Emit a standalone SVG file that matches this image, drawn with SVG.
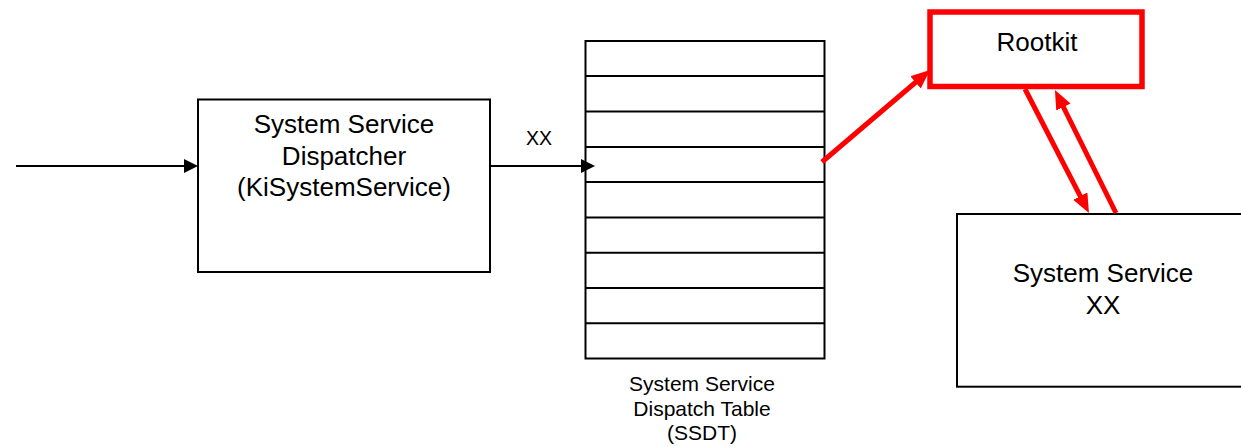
<svg xmlns="http://www.w3.org/2000/svg" width="1241" height="447" viewBox="0 0 1241 447">
  <style>
    text { font-family: "Liberation Sans", Arial, sans-serif; fill: #000; text-anchor: middle; }
    .box { fill: #fff; stroke: #000; stroke-width: 2; }
    .row { stroke: #000; stroke-width: 2; }
    .big { font-size: 26px; }
    .mid { font-size: 21px; }
    .small { font-size: 19.5px; }
    .wire { stroke: #000; stroke-width: 2; fill: none; }
    .hook { stroke: #ff0000; stroke-width: 5; fill: none; }
  </style>
  <defs>
    <marker id="arrowBlack" markerUnits="userSpaceOnUse" markerWidth="16" markerHeight="16" refX="10" refY="7" orient="auto">
      <path d="M0,0 L14,7 L0,14 z" fill="#000"/>
    </marker>
    <marker id="arrowRed" markerUnits="userSpaceOnUse" markerWidth="22" markerHeight="18" refX="9" refY="8" orient="auto">
      <path d="M0,0 L19,8 L0,16 z" fill="#ff0000"/>
    </marker>
  </defs>
  <rect width="1241" height="447" fill="#fff"/>

  <!-- System service dispatcher -->
  <g id="dispatcher">
    <rect class="box" x="198" y="99.5" width="292" height="172.5"/>
    <text class="big" x="344" y="133">System Service</text>
    <text class="big" x="344" y="164.5">Dispatcher</text>
    <text class="big" x="344" y="196">(KiSystemService)</text>
  </g>

  <!-- SSDT table -->
  <g id="ssdt">
    <rect class="box" x="585.5" y="41" width="239" height="317.5"/>
    <line class="row" x1="585.5" y1="76" x2="824.5" y2="76"/>
    <line class="row" x1="585.5" y1="111.5" x2="824.5" y2="111.5"/>
    <line class="row" x1="585.5" y1="147" x2="824.5" y2="147"/>
    <line class="row" x1="585.5" y1="182" x2="824.5" y2="182"/>
    <line class="row" x1="585.5" y1="217.5" x2="824.5" y2="217.5"/>
    <line class="row" x1="585.5" y1="252.7" x2="824.5" y2="252.7"/>
    <line class="row" x1="585.5" y1="288" x2="824.5" y2="288"/>
    <line class="row" x1="585.5" y1="323.3" x2="824.5" y2="323.3"/>
    <text class="mid" x="702" y="391">System Service</text>
    <text class="mid" x="702" y="415.5">Dispatch Table</text>
    <text class="mid" x="702" y="440">(SSDT)</text>
  </g>

  <!-- Rootkit -->
  <g id="rootkit">
    <rect x="930" y="12" width="212" height="74.5" fill="#fff" stroke="#ff0000" stroke-width="5.5"/>
    <text class="big" x="1037" y="51">Rootkit</text>
  </g>

  <!-- Target system service -->
  <g id="service-xx">
    <rect class="box" x="957" y="214" width="300" height="172.7"/>
    <text class="big" x="1103" y="282">System Service</text>
    <text class="big" x="1103" y="314">XX</text>
  </g>

  <!-- Connectors -->
  <g id="connectors">
    <line class="wire" x1="16" y1="166" x2="194" y2="166" marker-end="url(#arrowBlack)"/>
    <line class="wire" x1="490" y1="166" x2="591" y2="166" marker-end="url(#arrowBlack)"/>
    <text class="small" x="539" y="145">XX</text>
    <line class="hook" x1="822" y1="162" x2="922.4" y2="76.5" marker-end="url(#arrowRed)"/>
    <line class="hook" x1="1025" y1="89" x2="1084.4" y2="204.1" marker-end="url(#arrowRed)"/>
    <line class="hook" x1="1116" y1="213" x2="1059.4" y2="99" marker-end="url(#arrowRed)"/>
  </g>
</svg>
